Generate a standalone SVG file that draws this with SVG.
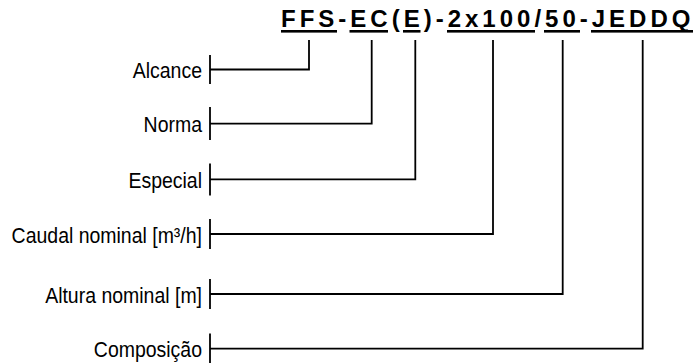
<svg xmlns="http://www.w3.org/2000/svg" width="695" height="363" viewBox="0 0 695 363">
<style>
.title{font-family:"Liberation Sans",Arial,sans-serif;font-weight:bold;font-size:24px;letter-spacing:4px;fill:#000}
.lbl{font-family:"Liberation Sans",Arial,sans-serif;font-size:22px;fill:#000;text-anchor:end}
.ln{stroke:#000;stroke-width:1.8;fill:none}
.ul{fill:#000}
</style>
<rect width="695" height="363" fill="#fff"/>
<g id="code">
<text class="title" x="281" y="27">FFS-EC(E)-2x100/50-JEDDQ</text>
<rect class="ul" x="281" y="30" width="56" height="2.6"/>
<rect class="ul" x="349.5" y="30" width="38.5" height="2.6"/>
<rect class="ul" x="403" y="30" width="17.5" height="2.6"/>
<rect class="ul" x="447" y="30" width="88" height="2.6"/>
<rect class="ul" x="544" y="30" width="36" height="2.6"/>
<rect class="ul" x="591" y="30" width="102" height="2.6"/>
</g>
<g id="alcance"><text class="lbl" transform="translate(202,77.5) scale(0.885,1)">Alcance</text><line class="ln" x1="210" y1="55" x2="210" y2="84"/></g>
<g id="norma"><text class="lbl" transform="translate(202,131.5) scale(0.885,1)">Norma</text><line class="ln" x1="210" y1="107" x2="210" y2="140"/></g>
<g id="especial"><text class="lbl" transform="translate(202,187.5) scale(0.885,1)">Especial</text><line class="ln" x1="210" y1="163.5" x2="210" y2="195.5"/></g>
<g id="caudal"><text class="lbl" transform="translate(202,242.5) scale(0.885,1)">Caudal nominal [m³/h]</text><line class="ln" x1="210" y1="219" x2="210" y2="249"/></g>
<g id="altura"><text class="lbl" transform="translate(202,302.5) scale(0.885,1)">Altura nominal [m]</text><line class="ln" x1="210" y1="279" x2="210" y2="309"/></g>
<g id="composicao"><text class="lbl" transform="translate(202,357) scale(0.885,1)">Composição</text><line class="ln" x1="210" y1="333.5" x2="210" y2="363"/></g>
<g id="connectors">
<polyline class="ln" points="210,69.5 309,69.5 309,40"/>
<polyline class="ln" points="210,123.7 371.7,123.7 371.7,40"/>
<polyline class="ln" points="210,179.3 415.3,179.3 415.3,40"/>
<polyline class="ln" points="210,234 493,234 493,40"/>
<polyline class="ln" points="210,294 562.7,294 562.7,40"/>
<polyline class="ln" points="210,348.7 642.7,348.7 642.7,40"/>
</g>
</svg>
